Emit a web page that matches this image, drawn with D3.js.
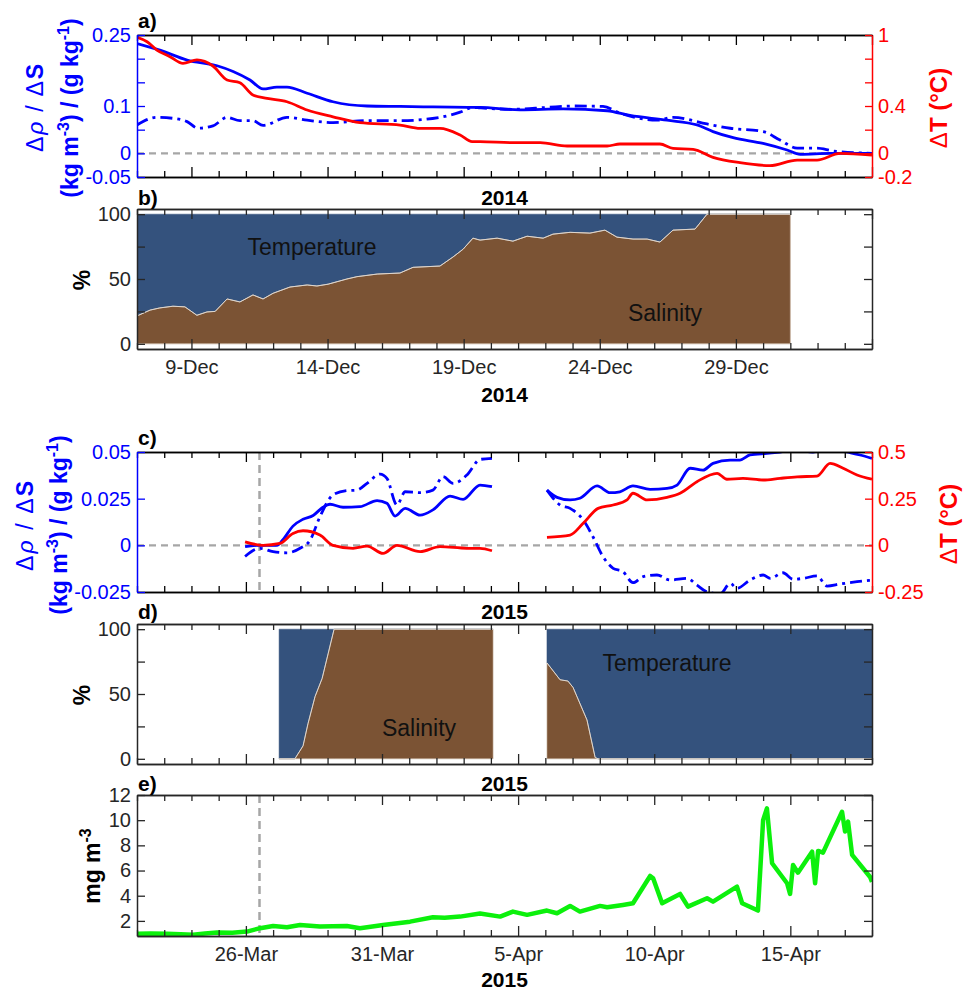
<!DOCTYPE html>
<html><head><meta charset="utf-8">
<script src="https://cdn.jsdelivr.net/npm/d3@7"></script>
<style>
body{margin:0;background:#fff}
svg text{font-family:"Liberation Sans",Arial,Helvetica,sans-serif}
</style></head><body>
<svg id="chart" width="969" height="993"></svg>
<script>
// ---------------- DATA ----------------
// Panel a (December 2014): [day of December, value]
const aDensSolid = [[7.0,0.232],[7.84,0.218],[8.84,0.197],[9.94,0.185],[10.53,0.173],[11.15,0.155],[11.63,0.136],[12.14,0.140],[12.51,0.140],[13.25,0.127],[14.2,0.109],[15.45,0.100],[16.66,0.099],[17.87,0.098],[19.6,0.097],[21.07,0.092],[22.65,0.094],[24.27,0.090],[25.11,0.080],[26.47,0.070],[27.57,0.060],[28.16,0.046],[28.9,0.033],[30.0,0.021],[30.88,0.007],[31.36,-0.002],[32.46,0.0],[34.0,0.0]];
const aDensDash = [[7.0,0.060],[7.73,0.076],[8.32,0.074],[8.84,0.067],[9.24,0.053],[9.79,0.058],[10.31,0.076],[10.78,0.069],[11.26,0.069],[11.63,0.059],[12.51,0.076],[13.25,0.070],[14.2,0.065],[15.45,0.069],[16.66,0.069],[18.13,0.076],[18.87,0.087],[19.34,0.097],[19.6,0.096],[20.81,0.093],[22.06,0.097],[23.02,0.100],[24.12,0.099],[24.74,0.085],[26.1,0.070],[26.69,0.076],[27.94,0.062],[28.79,0.053],[30.0,0.046],[30.62,0.028],[31.25,0.011],[31.98,0.011],[32.57,0.005],[34.0,0.0]];
const aTemp = [[7.0,0.98],[7.37,0.943],[7.73,0.873],[8.21,0.817],[8.69,0.760],[9.2,0.789],[9.79,0.738],[10.31,0.62],[10.78,0.597],[11.26,0.493],[11.78,0.465],[12.51,0.436],[13.25,0.366],[14.2,0.309],[15.19,0.259],[16.66,0.239],[17.4,0.211],[18.13,0.211],[18.87,0.155],[19.31,0.099],[19.6,0.099],[20.81,0.09],[21.81,0.09],[22.8,0.062],[24.27,0.062],[24.74,0.079],[26.21,0.079],[26.69,0.042],[27.43,0.034],[28.16,-0.034],[29.15,-0.079],[30.25,-0.104],[31.25,-0.057],[31.98,-0.057],[32.83,0.0],[34.0,-0.014]];
// Panel b: salinity share of density change (%), [day of December, %]
const bSalPct = [[7.0,21.5],[7.48,26],[7.84,27.7],[8.32,29],[8.76,28.5],[9.2,22],[9.57,24.6],[9.87,25],[10.31,34.6],[10.78,32.3],[11.26,37.7],[11.63,34.6],[12.0,39],[12.62,43.8],[13.25,45.4],[13.61,44.6],[14.02,46],[14.71,50],[15.08,51.8],[15.82,53.8],[16.66,54.6],[17.14,59],[18.13,60],[18.61,67],[18.98,73],[19.34,81.5],[19.6,80],[20.23,81.5],[20.81,79.2],[21.33,83],[21.92,81.5],[22.28,84.6],[22.91,86],[23.64,85.4],[24.19,87.7],[24.63,82.3],[25.22,80.8],[25.74,80.8],[26.21,78.5],[26.69,87.7],[27.5,88.5],[27.94,100],[31.0,100]];
// Panel c (March-April 2015): [day counted from 1 March, value]
const cDensSolid1 = [[25.97,-0.0007],[26.41,0.0],[27.14,0.0],[27.36,0.003],[27.73,0.0103],[28.1,0.014],[28.47,0.016],[28.83,0.0204],[29.09,0.022],[29.57,0.0204],[30.19,0.0207],[30.82,0.024],[31.18,0.0225],[31.48,0.0157],[31.85,0.0198],[32.4,0.0162],[32.87,0.019],[33.5,0.0264],[33.98,0.0246],[34.6,0.0323],[35.04,0.0314]];
const cDensSolid2 = [[37.06,0.0296],[37.43,0.0257],[37.91,0.0243],[38.27,0.0252],[38.9,0.0318],[39.38,0.0282],[39.74,0.0287],[40.22,0.0318],[40.85,0.030],[41.47,0.0305],[41.84,0.0323],[42.32,0.0413],[42.79,0.0403],[43.16,0.0439],[43.79,0.0457],[44.15,0.0457],[44.52,0.0484],[45.14,0.0493],[45.62,0.050],[46.25,0.051],[46.83,0.050],[47.46,0.052],[48.08,0.050],[48.56,0.0484],[49.0,0.0466]];
const cDensDash1 = [[25.97,-0.006],[26.52,-0.0016],[27.0,-0.0034],[27.51,-0.004],[27.99,-0.0016],[28.36,0.0028],[28.72,0.0153],[29.2,0.027],[29.71,0.0293],[30.08,0.0296],[30.45,0.0332],[30.93,0.0382],[31.18,0.0359],[31.55,0.0216],[31.85,0.0287],[32.4,0.0282],[32.87,0.0296],[33.24,0.0368],[33.61,0.0332],[34.12,0.0377],[34.6,0.046],[35.04,0.0466]];
const cDensDash2 = [[37.06,0.0296],[37.54,0.0216],[37.91,0.0198],[38.39,0.0136],[38.75,0.0046],[39.12,-0.0061],[39.49,-0.0123],[39.85,-0.0141],[40.22,-0.020],[40.59,-0.0168],[41.1,-0.0159],[41.58,-0.0186],[42.21,-0.0177],[42.57,-0.0213],[42.94,-0.0249],[43.42,-0.026],[43.79,-0.0204],[44.04,-0.023],[44.52,-0.0186],[45.0,-0.0159],[45.26,-0.0177],[45.73,-0.0147],[46.1,-0.0182],[46.47,-0.0177],[46.98,-0.0164],[47.35,-0.0218],[47.83,-0.0207],[48.45,-0.0195],[49.0,-0.0186]];
const cTemp1 = [[25.97,0.019],[26.63,0.0],[27.25,0.01],[27.73,0.064],[28.1,0.078],[28.72,0.055],[29.2,0.0],[29.94,-0.016],[30.45,-0.004],[31.04,-0.043],[31.55,0.0],[32.4,-0.034],[33.13,-0.007],[34.12,-0.016],[34.6,-0.016],[35.04,-0.029]];
const cTemp2 = [[37.06,0.043],[37.91,0.055],[38.39,0.118],[38.94,0.198],[39.49,0.216],[40.0,0.243],[40.22,0.279],[40.74,0.243],[41.47,0.257],[41.95,0.279],[42.57,0.341],[43.31,0.386],[43.67,0.354],[44.26,0.359],[45.0,0.35],[45.62,0.359],[46.25,0.367],[46.98,0.371],[47.46,0.439],[47.94,0.413],[48.45,0.377],[49.0,0.354]];
// Panel d: salinity share (%), [day from 1 March, %]
const dSalPct1 = [[27.22,0],[27.8,0],[28.1,10],[28.28,27],[28.54,48],[28.8,62],[29.02,81],[29.24,100],[35.08,100]];
const dSalPct2 = [[37.06,74],[37.54,61],[37.83,60],[38.02,55],[38.53,30],[38.83,1],[38.94,0],[49.0,0]];
// Panel e: chlorophyll (mg m-3), [day from 1 March, value]
const eChl = [[22.0,0.97],[22.5,1.0],[23.1,0.97],[23.6,0.93],[24.06,0.9],[24.5,1.0],[24.94,1.07],[25.5,1.05],[26.04,1.15],[26.52,1.42],[27.0,1.6],[27.51,1.5],[27.99,1.68],[28.72,1.55],[29.2,1.58],[29.71,1.6],[30.19,1.42],[31.04,1.68],[32.03,1.94],[32.87,2.29],[33.3,2.25],[33.87,2.34],[34.6,2.58],[35.34,2.34],[35.81,2.74],[36.33,2.48],[37.06,2.82],[37.43,2.61],[37.91,3.19],[38.27,2.74],[39.01,3.19],[39.27,3.08],[39.85,3.27],[40.22,3.4],[40.85,5.57],[40.96,5.38],[41.29,3.4],[41.95,4.14],[42.24,3.13],[42.94,3.8],[43.16,3.53],[44.04,4.72],[44.23,3.4],[44.81,2.82],[45.0,10.0],[45.14,10.94],[45.33,6.58],[45.88,4.99],[45.99,4.14],[46.1,6.44],[46.28,5.83],[46.8,7.5],[46.91,4.99],[47.02,7.56],[47.2,7.42],[47.9,10.67],[48.01,9.1],[48.12,9.89],[48.27,7.24],[48.93,5.49],[49.0,5.1]];
// event marker (26 Mar, midday)
const eventDay = [26.5];
// Tick values and labels
const decTickLabels = ["9-Dec","14-Dec","19-Dec","24-Dec","29-Dec"];
const marTickLabels = ["26-Mar","31-Mar","5-Apr","10-Apr","15-Apr"];
const aLeftTicks = [-0.05,0,0.05,0.1,0.15,0.2,0.25];
const aLeftLabels = ["-0.05","0","","0.1","","","0.25"];
const aRightTicks = [-0.2,0,0.2,0.4,0.6,0.8,1];
const aRightLabels = ["-0.2","0","","0.4","","","1"];
const pctTicks = [0,25,50,75,100];
const pctLabels = ["0","","50","","100"];
const cLeftTicks = [-0.025,0,0.025,0.05];
const cLeftLabels = ["-0.025","0","0.025","0.05"];
const cRightTicks = [-0.25,0,0.25,0.5];
const cRightLabels = ["-0.25","0","0.25","0.5"];
const eTicks = [2,4,6,8,10,12];
const eLabels = ["2","4","6","8","10","12"];

// ---------------- SETUP ----------------
const FONT = '"Liberation Sans", Arial, Helvetica, sans-serif';
const BLUE = "#0000ff", RED = "#ff0000", GREEN = "#0cf00c", GRAY = "#a6a6a6", BOX = "#262626";
const T_COL = "#34527d", S_COL = "#7b5334";
const svg = d3.select("#chart");
const L = 137, R = 872;
const P = {a:[35,177], b:[209,349], c:[452,592], d:[624,764], e:[795,936]};
const DAY = 864e5;
const decDate = d => new Date(Date.UTC(2014,11,1) + (d-1)*DAY);
const marDate = d => new Date(Date.UTC(2015,2,1) + (d-1)*DAY);
const xDec = d3.scaleUtc().domain([decDate(7), decDate(34)]).range([L,R]);
const xMar = d3.scaleUtc().domain([marDate(22), marDate(49)]).range([L,R]);

const yA = d3.scaleLinear().domain([-0.05,0.25]).range([P.a[1],P.a[0]]);
const yAR = d3.scaleLinear().domain([-0.2,1]).range([P.a[1],P.a[0]]);
const yB = d3.scaleLinear().domain([-4,104]).range([P.b[1],P.b[0]]);
const yC = d3.scaleLinear().domain([-0.025,0.05]).range([P.c[1],P.c[0]]);
const yCR = d3.scaleLinear().domain([-0.25,0.5]).range([P.c[1],P.c[0]]);
const yD = d3.scaleLinear().domain([-4,104]).range([P.d[1],P.d[0]]);
const yE = d3.scaleLinear().domain([0.8,12]).range([P.e[1],P.e[0]]);

const defs = svg.append("defs");
Object.entries(P).forEach(([k,[t,b]]) => {
  defs.append("clipPath").attr("id","clip-"+k).append("rect")
    .attr("x",L).attr("y",t).attr("width",R-L).attr("height",b-t);
});

function styleAxis(g, color, size){
  g.attr("font-size",null).attr("font-family",null);
  g.select(".domain").attr("stroke",color).attr("stroke-width",1.5);
  g.selectAll(".tick line").attr("stroke",color).attr("stroke-width",1.3);
  g.selectAll(".tick text").attr("fill",color).style("font-size",(size||20)+"px").style("font-family",FONT);
}

// x axes: ticks every day on top and bottom, longer every 5 days
function xAxes(x, top, bottom, majOffset, labels, color){
  const days = d3.utcDay.range(x.domain()[0], new Date(+x.domain()[1]+1));
  const minor = days.filter((d,i)=> (i-majOffset)%5!==0);
  const major = days.filter((d,i)=> (i-majOffset)%5===0);
  const labFmt = d => { const i = major.findIndex(m=>+m===+d); return labels && i < labels.length ? labels[i] : ""; };
  [[d3.axisBottom, bottom],[d3.axisTop, top]].forEach(([fn, y], k) => {
    const g1 = svg.append("g").attr("transform",`translate(0,${y})`)
      .call(fn(x).tickValues(minor).tickSize(-6).tickSizeOuter(0).tickFormat(""));
    styleAxis(g1, color);
    const g2 = svg.append("g").attr("transform",`translate(0,${y})`)
      .call(fn(x).tickValues(major).tickSize(-10).tickSizeOuter(0).tickPadding(11)
        .tickFormat(k===0 ? labFmt : ""));
    styleAxis(g2, color);
  });
}
function yAxis(y, side, ticks, labels, color, len){
  const fn = side==="left" ? d3.axisLeft : d3.axisRight;
  const g = svg.append("g").attr("transform",`translate(${side==="left"?L:R},0)`)
    .call(fn(y).tickValues(ticks).tickSize(-(len||8)).tickSizeOuter(0).tickPadding(6)
      .tickFormat((v,i)=>labels[i]));
  styleAxis(g, color);
  return g;
}
function linePath(x, conv, y, curve){
  return d3.line().x(d=>x(conv(d[0]))).y(d=>y(d[1])).curve(curve||d3.curveMonotoneX);
}
function addText(x, y, txt, opts){
  const t = svg.append("text").attr("x",x).attr("y",y).text(txt)
    .style("font-size",(opts.size||20)+"px").attr("fill",opts.fill||"#000")
    .attr("text-anchor",opts.anchor||"start");
  if(opts.bold) t.style("font-weight","bold");
  return t;
}
function hZero(y, key){
  svg.append("line").attr("x1",L).attr("x2",R).attr("y1",y(0)).attr("y2",y(0))
    .attr("stroke",GRAY).attr("stroke-width",2.2).attr("stroke-dasharray","7,5");
}
function vEvent(top,bottom){
  const xx = xMar(marDate(eventDay[0]));
  svg.append("line").attr("x1",xx).attr("x2",xx).attr("y1",top).attr("y2",bottom)
    .attr("stroke",GRAY).attr("stroke-width",2.5).attr("stroke-dasharray","8,5");
}
function drawLine(data, x, conv, y, color, dash, clip, w){
  const p = svg.append("path").datum(data).attr("d",linePath(x,conv,y)(data))
    .attr("fill","none").attr("stroke",color).attr("stroke-width",w||2.8)
    .attr("stroke-linejoin","round").attr("clip-path",`url(#clip-${clip})`);
  if(dash) p.attr("stroke-dasharray",dash);
}
const DASHDOT = "12,5,3,5";

// Rotated y label helpers
function yLabelDelta(xBase, yc, color, len){
  const t = svg.append("text").attr("transform",`translate(${xBase},${yc}) rotate(-90)`)
    .attr("text-anchor","middle").attr("fill",color).style("font-size","23px")
    .attr("textLength",len).attr("lengthAdjust","spacing");
  t.append("tspan").text("Δ");
  t.append("tspan").style("font-style","italic").text("ρ");
  t.append("tspan").text(" / Δ");
  t.append("tspan").style("font-weight","bold").text("S");
}
function yLabelUnits(xBase, yc, color){
  const t = svg.append("text").attr("transform",`translate(${xBase},${yc}) rotate(-90)`)
    .attr("text-anchor","middle").attr("fill",color).style("font-size","23px").style("font-weight","bold");
  t.append("tspan").text("(kg m");
  t.append("tspan").style("font-size","16px").attr("dy",-9).text("-3");
  t.append("tspan").attr("dy",9).text(") / (g kg");
  t.append("tspan").style("font-size","16px").attr("dy",-9).text("-1");
  t.append("tspan").attr("dy",9).text(")");
}
function yLabelTemp(xBase, yc){
  const t = svg.append("text").attr("transform",`translate(${xBase},${yc}) rotate(-90)`)
    .attr("text-anchor","middle").attr("fill",RED).style("font-size","24px").style("font-weight","bold");
  t.append("tspan").style("font-weight","normal").text("Δ");
  t.append("tspan").text("T (°C)");
}
function yLabelPlain(xBase, yc, parts){
  const t = svg.append("text").attr("transform",`translate(${xBase},${yc}) rotate(-90)`)
    .attr("text-anchor","middle").attr("fill","#000").style("font-size","23px").style("font-weight","bold");
  parts.forEach(p => {
    const s = t.append("tspan").text(p.t);
    if(p.sup){ s.style("font-size","16px").attr("dy",-9); }
    if(p.dy) s.attr("dy",p.dy);
  });
}

// ---------------- PANEL A ----------------
hZero(yA);
drawLine(aDensDash, xDec, decDate, yA, BLUE, DASHDOT, "a");
drawLine(aDensSolid, xDec, decDate, yA, BLUE, null, "a");
drawLine(aTemp, xDec, decDate, yAR, RED, null, "a");
xAxes(xDec, P.a[0], P.a[1], 2, null, "#000");
yAxis(yA, "left", aLeftTicks, aLeftLabels, BLUE);
yAxis(yAR, "right", aRightTicks, aRightLabels, RED, 7);
addText(138, 28, "a)", {bold:true, size:21});
addText((L+R)/2, 205, "2014", {bold:true, size:21, anchor:"middle"});
yLabelDelta(43, 108, BLUE, 88);
yLabelUnits(78, 108, BLUE);
yLabelTemp(947, 108);

// ---------------- PANEL B ----------------
const gB = svg.append("g").attr("clip-path","url(#clip-b)");
gB.append("path").datum(bSalPct)
  .attr("d", d3.area().x(d=>xDec(decDate(d[0]))).y0(d=>yB(d[1])).y1(yB(100)))
  .attr("fill",T_COL).attr("stroke",T_COL).attr("stroke-width",0.5);
gB.append("path").datum(bSalPct)
  .attr("d", d3.area().x(d=>xDec(decDate(d[0]))).y0(yB(0)).y1(d=>yB(d[1])))
  .attr("fill",S_COL).attr("stroke","#c9b6a3").attr("stroke-width",0.8);
gB.append("path").datum(bSalPct)
  .attr("d", d3.line().x(d=>xDec(decDate(d[0]))).y(d=>yB(d[1])))
  .attr("fill","none").attr("stroke","#ddd6cf").attr("stroke-width",1);
xAxes(xDec, P.b[0], P.b[1], 2, decTickLabels, BOX);
yAxis(yB, "left", pctTicks, pctLabels, BOX);
yAxis(yB, "right", pctTicks, pctTicks.map(()=>""), BOX);
addText(138, 205, "b)", {bold:true, size:21});
addText(312, 255, "Temperature", {size:23, anchor:"middle", fill:"#111"});
addText(665, 321, "Salinity", {size:23, anchor:"middle", fill:"#111"});
addText((L+R)/2, 402, "2014", {bold:true, size:21, anchor:"middle"});
yLabelPlain(90, 280, [{t:"%"}]);

// ---------------- PANEL C ----------------
hZero(yC);
vEvent(P.c[0], P.c[1]);
[cDensDash1, cDensDash2].forEach(s => drawLine(s, xMar, marDate, yC, BLUE, DASHDOT, "c"));
[cDensSolid1, cDensSolid2].forEach(s => drawLine(s, xMar, marDate, yC, BLUE, null, "c"));
[cTemp1, cTemp2].forEach(s => drawLine(s, xMar, marDate, yCR, RED, null, "c"));
xAxes(xMar, P.c[0], P.c[1], 4, null, "#000");
yAxis(yC, "left", cLeftTicks, cLeftLabels, BLUE);
yAxis(yCR, "right", cRightTicks, cRightLabels, RED, 7);
addText(138, 445, "c)", {bold:true, size:21});
addText((L+R)/2, 619, "2015", {bold:true, size:21, anchor:"middle"});
yLabelDelta(33, 526, BLUE, 90);
yLabelUnits(67, 525, BLUE);
yLabelTemp(957, 524);

// ---------------- PANEL D ----------------
const gD = svg.append("g").attr("clip-path","url(#clip-d)");
[dSalPct1, dSalPct2].forEach(s => {
  gD.append("path").datum(s)
    .attr("d", d3.area().x(d=>xMar(marDate(d[0]))).y0(d=>yD(d[1])).y1(yD(100)))
    .attr("fill",T_COL).attr("stroke",T_COL).attr("stroke-width",0.5);
  gD.append("path").datum(s)
    .attr("d", d3.area().x(d=>xMar(marDate(d[0]))).y0(yD(0)).y1(d=>yD(d[1])))
    .attr("fill",S_COL).attr("stroke","#c9b6a3").attr("stroke-width",0.6);
  gD.append("path").datum(s)
    .attr("d", d3.line().x(d=>xMar(marDate(d[0]))).y(d=>yD(d[1])))
    .attr("fill","none").attr("stroke","#ddd6cf").attr("stroke-width",1);
});
xAxes(xMar, P.d[0], P.d[1], 4, null, BOX);
yAxis(yD, "left", pctTicks, pctLabels, BOX);
yAxis(yD, "right", pctTicks, pctTicks.map(()=>""), BOX);
addText(138, 619, "d)", {bold:true, size:21});
addText(419, 736, "Salinity", {size:23, anchor:"middle", fill:"#111"});
addText(667, 671, "Temperature", {size:23, anchor:"middle", fill:"#111"});
addText((L+R)/2, 791, "2015", {bold:true, size:21, anchor:"middle"});
yLabelPlain(90, 695, [{t:"%"}]);

// ---------------- PANEL E ----------------
vEvent(P.e[0], P.e[1]);
svg.append("path").datum(eChl)
  .attr("d", linePath(xMar, marDate, yE, d3.curveLinear)(eChl))
  .attr("fill","none").attr("stroke",GREEN).attr("stroke-width",4.5)
  .attr("stroke-linejoin","round").attr("clip-path","url(#clip-e)");
xAxes(xMar, P.e[0], P.e[1], 4, marTickLabels, BOX);
yAxis(yE, "left", eTicks, eLabels, BOX);
yAxis(yE, "right", eTicks, eTicks.map(()=>""), BOX);
addText(138, 791, "e)", {bold:true, size:21});
addText((L+R)/2, 987, "2015", {bold:true, size:21, anchor:"middle"});
yLabelPlain(100, 866, [{t:"mg m"},{t:"-3", sup:true}]);
</script>
</body></html>
